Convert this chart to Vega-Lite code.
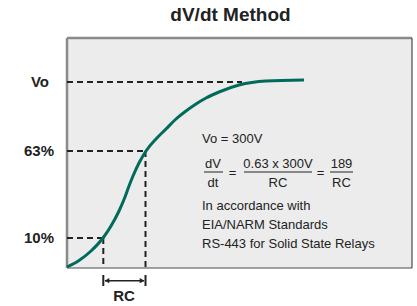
{
  "$schema": "https://vega.github.io/schema/vega-lite/v6.json",
  "width": 345,
  "height": 230,
  "autosize": {"type": "none"},
  "padding": {"left": 67, "top": 38, "right": 5, "bottom": 38},
  "background": "white",
  "view": {"fill": "#ececec", "stroke": null},
  "title": {"text": "dV/dt Method", "font": "Liberation Sans", "fontSize": 19, "fontWeight": "bold", "color": "#222222", "anchor": "middle", "dx": -9, "offset": 12},
  "datasets": {
    "frame": [
      {"x": 0, "x2": 345, "y": 230, "y2": 230, "side": "light"},
      {"x": 0, "x2": 0, "y": 0, "y2": 230, "side": "light"},
      {"x": 0, "x2": 345, "y": 0, "y2": 0, "side": "dark"},
      {"x": 345, "x2": 345, "y": 0, "y2": 230, "side": "dark"}
    ],
    "curve": [
      {"t": 0, "v": 1}, {"t": 12, "v": 7.5}, {"t": 24, "v": 17}, {"t": 36, "v": 30},
      {"t": 44, "v": 42}, {"t": 52, "v": 57}, {"t": 58, "v": 71}, {"t": 62, "v": 82},
      {"t": 66, "v": 92}, {"t": 72, "v": 105}, {"t": 79, "v": 117}, {"t": 89, "v": 129},
      {"t": 99, "v": 139}, {"t": 109, "v": 149}, {"t": 119, "v": 157}, {"t": 129, "v": 164},
      {"t": 139, "v": 170}, {"t": 152, "v": 176}, {"t": 172, "v": 183}, {"t": 199, "v": 187},
      {"t": 237, "v": 188}
    ],
    "guides": [
      {"x": 0, "x2": 175, "y": 186, "y2": 186},
      {"x": 0, "x2": 79, "y": 117, "y2": 117},
      {"x": 0, "x2": 36.3, "y": 30, "y2": 30},
      {"x": 36.3, "x2": 36.3, "y": 30, "y2": 0},
      {"x": 78.5, "x2": 78.5, "y": 117, "y2": 0}
    ],
    "ticks": [
      {"x": 36.3, "y": -7, "y2": -18},
      {"x": 78.5, "y": -7, "y2": -18}
    ],
    "arrow": [{"x": 38, "x2": 77, "y": -12.7}],
    "heads": [{"x": 40, "y": -12.7, "dir": "left"}, {"x": 75, "y": -12.7, "dir": "right"}],
    "levels": [
      {"x": -27, "y": 186, "label": "Vo"},
      {"x": -28, "y": 117, "label": "63%"},
      {"x": -28, "y": 30, "label": "10%"},
      {"x": 57, "y": -28, "label": "RC"}
    ],
    "notes": [
      {"x": 135, "y": 129, "text": "Vo = 300V"},
      {"x": 135, "y": 62, "text": "In accordance with"},
      {"x": 135, "y": 43, "text": "EIA/NARM Standards"},
      {"x": 135, "y": 24, "text": "RS-443 for Solid State Relays"}
    ],
    "math": [
      {"x": 146, "y": 104.5, "text": "dV"},
      {"x": 146, "y": 85, "text": "dt"},
      {"x": 165.5, "y": 95, "text": "="},
      {"x": 211, "y": 104.5, "text": "0.63 x 300V"},
      {"x": 211, "y": 85, "text": "RC"},
      {"x": 253.5, "y": 95, "text": "="},
      {"x": 274.5, "y": 104.5, "text": "189"},
      {"x": 274.5, "y": 85, "text": "RC"}
    ],
    "bars": [
      {"x": 137, "x2": 156, "y": 96},
      {"x": 177, "x2": 245, "y": 96},
      {"x": 263, "x2": 286, "y": 96}
    ]
  },
  "layer": [
    {
      "data": {"name": "frame"},
      "mark": {"type": "rule"},
      "encoding": {
        "x": {"field": "x", "type": "quantitative", "scale": {"domain": [0, 345], "nice": false, "zero": false}, "axis": null},
        "x2": {"field": "x2"},
        "y": {"field": "y", "type": "quantitative", "scale": {"domain": [0, 230], "nice": false, "zero": false}, "axis": null},
        "y2": {"field": "y2"},
        "color": {"field": "side", "type": "nominal", "scale": {"domain": ["light", "dark"], "range": ["#8a8a8a", "#4a4a4a"]}, "legend": null},
        "strokeWidth": {"field": "side", "type": "nominal", "scale": {"domain": ["light", "dark"], "range": [2.5, 1.2]}, "legend": null}
      }
    },
    {
      "data": {"name": "guides"},
      "mark": {"type": "rule", "stroke": "#222222", "strokeWidth": 2, "strokeDash": [6, 4]},
      "encoding": {
        "x": {"field": "x", "type": "quantitative"},
        "x2": {"field": "x2"},
        "y": {"field": "y", "type": "quantitative"},
        "y2": {"field": "y2"}
      }
    },
    {
      "data": {"name": "curve"},
      "mark": {"type": "line", "stroke": "#006b5b", "strokeWidth": 3, "interpolate": "monotone", "clip": false},
      "encoding": {
        "x": {"field": "t", "type": "quantitative"},
        "y": {"field": "v", "type": "quantitative"}
      }
    },
    {
      "data": {"name": "ticks"},
      "mark": {"type": "rule", "stroke": "#222222", "strokeWidth": 2},
      "encoding": {
        "x": {"field": "x", "type": "quantitative"},
        "y": {"field": "y", "type": "quantitative"},
        "y2": {"field": "y2"}
      }
    },
    {
      "data": {"name": "arrow"},
      "mark": {"type": "rule", "stroke": "#222222", "strokeWidth": 1.5},
      "encoding": {
        "x": {"field": "x", "type": "quantitative"},
        "x2": {"field": "x2"},
        "y": {"field": "y", "type": "quantitative"}
      }
    },
    {
      "data": {"name": "heads"},
      "mark": {"type": "point", "filled": true, "color": "#222222", "size": 28, "opacity": 1},
      "encoding": {
        "x": {"field": "x", "type": "quantitative"},
        "y": {"field": "y", "type": "quantitative"},
        "shape": {"field": "dir", "type": "nominal", "scale": {"domain": ["left", "right"], "range": ["triangle-left", "triangle-right"]}, "legend": null}
      }
    },
    {
      "data": {"name": "levels"},
      "mark": {"type": "text", "font": "Liberation Sans", "fontSize": 15, "fontWeight": "bold", "color": "#222222", "align": "center", "baseline": "middle"},
      "encoding": {
        "x": {"field": "x", "type": "quantitative"},
        "y": {"field": "y", "type": "quantitative"},
        "text": {"field": "label"}
      }
    },
    {
      "data": {"name": "notes"},
      "mark": {"type": "text", "font": "Liberation Sans", "fontSize": 13, "color": "#222222", "align": "left", "baseline": "middle"},
      "encoding": {
        "x": {"field": "x", "type": "quantitative"},
        "y": {"field": "y", "type": "quantitative"},
        "text": {"field": "text"}
      }
    },
    {
      "data": {"name": "math"},
      "mark": {"type": "text", "font": "Liberation Sans", "fontSize": 13, "color": "#222222", "align": "center", "baseline": "middle"},
      "encoding": {
        "x": {"field": "x", "type": "quantitative"},
        "y": {"field": "y", "type": "quantitative"},
        "text": {"field": "text"}
      }
    },
    {
      "data": {"name": "bars"},
      "mark": {"type": "rule", "stroke": "#222222", "strokeWidth": 1},
      "encoding": {
        "x": {"field": "x", "type": "quantitative"},
        "x2": {"field": "x2"},
        "y": {"field": "y", "type": "quantitative"}
      }
    }
  ]
}
